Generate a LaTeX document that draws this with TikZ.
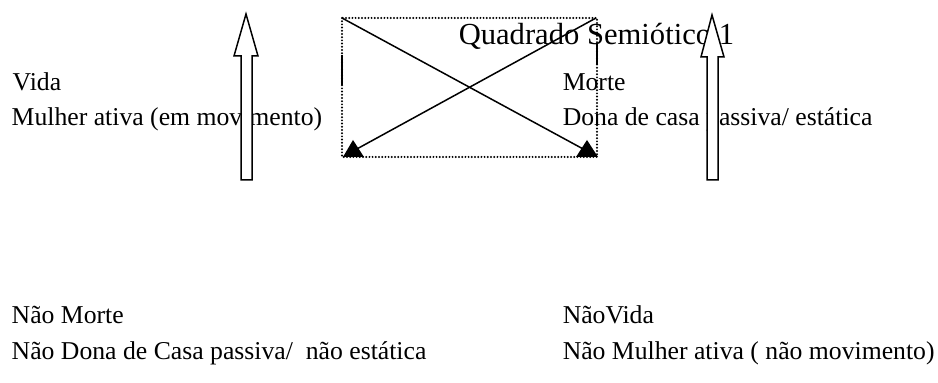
\documentclass[tikz,border=0pt]{standalone}
\usepackage{fontspec}
\setmainfont{Liberation Serif}

\begin{document}
\begin{tikzpicture}[x = 0.5pt, y = -0.5pt, line width = 0.75pt,
  every node/.style = {inner sep = 0pt, anchor = base west, font = \fontsize{12.85}{15}\selectfont},
  title/.style = {font = \fontsize{15.3}{18}\selectfont},
  dotline/.style = {dash pattern = on 0pt off 1.6pt, line cap = round, line width = 1.1pt},
  blockarrow/.style = {draw = black, fill = white, line width = 0.75pt}]
\useasboundingbox (0, 0) rectangle (938, 383);
% Labels
\node (vida) at (12, 91) {Vida};
\node (mulher) at (11, 126) {Mulher ativa (em movimento)};
\node (morte) at (562, 91) {Morte};
\node (dona) at (562, 126) {Dona de casa passiva/ estática};
\node (naomorte) at (11, 324) {Não Morte};
\node (naodona) at (11, 360) {Não Dona de Casa passiva/ \ não estática};
\node (naovida) at (562, 324) {NãoVida};
\node (naomulher) at (562, 360) {Não Mulher ativa ( não movimento)};
\node[title] (quadrado) at (458, 45) {Quadrado Semiótico 1};
% Dotted square
\draw[dotline] (342, 18) rectangle (597, 157);
\draw(342, 55) -- (342, 85);
\draw(597, 43) -- (597, 65);
% Corners and markers
\coordinate (tl) at (342, 18);
\coordinate (tr) at (596, 18);
\coordinate (bl) at (355, 150);
\coordinate (br) at (585, 150);
\draw(tl) -- (br);
\draw(tr) -- (bl);
\fill(343, 157) -- (353, 140) -- (364, 157) -- cycle;
\fill(576, 157) -- (587, 140) -- (598, 157) -- cycle;
% Block arrows
\draw[blockarrow](246, 14) -- (258, 56) -- (252, 56) -- (252, 180) -- (241, 180) -- (241, 56) -- (234, 56) -- cycle;
\draw[blockarrow](712, 15) -- (724, 57) -- (718, 57) -- (718, 180) -- (707, 180) -- (707, 57) -- (701, 57) -- cycle;
\end{tikzpicture}
\end{document}
